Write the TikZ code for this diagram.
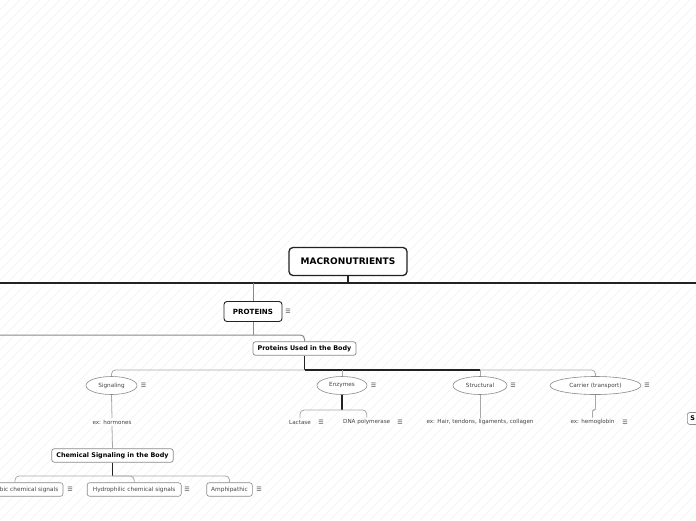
\documentclass[tikz,border=0pt]{standalone}
\usepackage{fontspec}
\setmainfont{DejaVu Sans}
\usetikzlibrary{shapes.geometric}
\definecolor{darkline}{HTML}{222222}
\definecolor{midline}{HTML}{8A8A8A}
\definecolor{lightline}{HTML}{A8A8A8}
\definecolor{txtgray}{HTML}{444444}
\definecolor{hatchc}{HTML}{F2F2F2}
\tikzset{
  hatch/.style={draw=hatchc, line width=0.5pt},
  rootbox/.style={draw=darkline, line width=1.3pt, rounded corners=4pt, fill=white,
    minimum width=118pt, minimum height=28pt, inner sep=0pt,
    font=\fontsize{9}{10}\selectfont\bfseries, text=black},
  mainbox/.style={draw=darkline, line width=0.9pt, rounded corners=3pt, fill=white,
    minimum width=58pt, minimum height=20pt, inner sep=0pt,
    font=\fontsize{7.1}{8}\selectfont\bfseries, text=black},
  subbox/.style={draw=midline, line width=0.7pt, rounded corners=2.5pt, fill=white,
    minimum height=13.5pt, inner sep=0pt,
    font=\fontsize{6.4}{7}\selectfont\bfseries, text=black},
  leafbox/.style={draw=midline, line width=0.6pt, rounded corners=2.5pt, fill=white,
    minimum height=13.5pt, inner sep=0pt,
    font=\fontsize{5.8}{6.5}\selectfont, text=txtgray},
  ell/.style={ellipse, draw=midline, line width=0.6pt, fill=white,
    minimum height=18pt, inner sep=0pt,
    font=\fontsize{5.7}{6.5}\selectfont, text=txtgray},
  txt/.style={inner sep=1.5pt, font=\fontsize{5.6}{6.5}\selectfont, text=txtgray},
  icon/.style={inner sep=0pt, font=\fontsize{6}{6}\selectfont, text=txtgray},
  thickline/.style={draw=darkline, line width=1.2pt},
  gconn/.style={draw=midline, line width=1pt},
  lconn/.style={draw=lightline, line width=0.8pt},
}
\begin{document}
\begin{tikzpicture}[x=1pt,y=-1pt]
\useasboundingbox (0,0) rectangle (696,520);
\clip (0,0) rectangle (696,520);
\fill[white] (0,0) rectangle (696,520);
\foreach \k in {-520,-510,...,700} \draw[hatch] (\k,520) -- (\k+520,0);

% coordinates for buses
\coordinate (busL) at (0,283);
\coordinate (busR) at (696,283);
\coordinate (pbusL) at (0,335);
\coordinate (ubus) at (304.5,370);
\coordinate (ubusR) at (480,370);
\coordinate (cbus) at (112.5,476);
\coordinate (ebus) at (342,410);

% nodes
\node[rootbox] (macro) at (348,261.5) {MACRONUTRIENTS};
\node[mainbox] (prot) at (253,311.5) {PROTEINS};
\node[subbox, minimum width=103pt] (used) at (304.5,348.5) {Proteins Used in the Body};
\node[ell, minimum width=51pt] (sig) at (111.5,385.5) {Signaling};
\node[ell, minimum width=50pt] (enz) at (342,385.5) {Enzymes};
\node[ell, minimum width=54pt] (str) at (480,385.5) {Structural};
\node[ell, minimum width=91pt] (car) at (595.5,385.5) {Carrier (transport)};
\node[txt] (horm) at (112,422) {ex: hormones};
\node[txt] (lac) at (300,422) {Lactase};
\node[txt] (dna) at (366.7,422) {DNA polymerase};
\node[txt] (hair) at (480,422) {ex: Hair, tendons, ligaments, collagen};
\node[txt] (hemo) at (592.5,422) {ex: hemoglobin};
\node[subbox, minimum width=121.5pt] (chem) at (112.5,455.5) {Chemical Signaling in the Body};
\node[leafbox, minimum width=96pt] (phob) at (15,489.5) {Hydrophobic chemical signals};
\node[leafbox, minimum width=94pt] (phil) at (134.2,489.5) {Hydrophilic chemical signals};
\node[leafbox, minimum width=45.6pt] (amph) at (229.5,489.5) {Amphipathic};
\node[subbox, anchor=west, minimum height=12pt, inner xsep=3pt, text width=30pt, align=left] (srcs) at (687,418.5) {S};

% icons
\node[icon] (i1) at (288,311.5) {☰};
\node[icon] (i2) at (143.5,385.5) {☰};
\node[icon] (i3) at (373.5,385.5) {☰};
\node[icon] (i4) at (513,385.5) {☰};
\node[icon] (i5) at (647,385.5) {☰};
\node[icon] (i6) at (321,422) {☰};
\node[icon] (i7) at (400,422) {☰};
\node[icon] (i8) at (625,422) {☰};
\node[icon] (i9) at (70,489.5) {☰};
\node[icon] (i10) at (187,489.5) {☰};
\node[icon] (i11) at (259,489.5) {☰};

% connectors
\draw[thickline] (macro.south) -- (macro.south |- busL);
\draw[thickline] (busL) -- (busR);
\draw[gconn] (prot.north) -- (prot.north |- busL);
\draw[gconn] (prot.south) -- (prot.south |- pbusL);
\draw[gconn, rounded corners=4pt] (pbusL) -| (used.north);
\draw[thickline] (used.south) -- (ubus);
\draw[lconn, rounded corners=4pt] (sig.north) |- (ubus) -| (car.north);
\draw[thickline] (ubus) -- (ubusR);
\draw[lconn] (enz.north) -- (enz.north |- ubus);
\draw[lconn] (str.north) -- (str.north |- ubus);
\draw[lconn] (sig.south) -- (horm.north);
\draw[lconn] (horm.south) -- (chem.north);
\draw[thickline] (chem.south) -- (cbus);
\draw[lconn, rounded corners=4pt] (phob.north) |- (cbus) -| (amph.north);
\draw[lconn, rounded corners=4pt] (cbus) -| (phil.north);
\draw[thickline] (enz.south) -- (ebus);
\draw[lconn, rounded corners=4pt] (lac.north) |- (ebus) -| (dna.north);
\draw[lconn] (str.south) -- (hair.north);
\draw[lconn, rounded corners=2pt] (car.south) -- (car.south |- ebus) -| (hemo.north);
\end{tikzpicture}
\end{document}
